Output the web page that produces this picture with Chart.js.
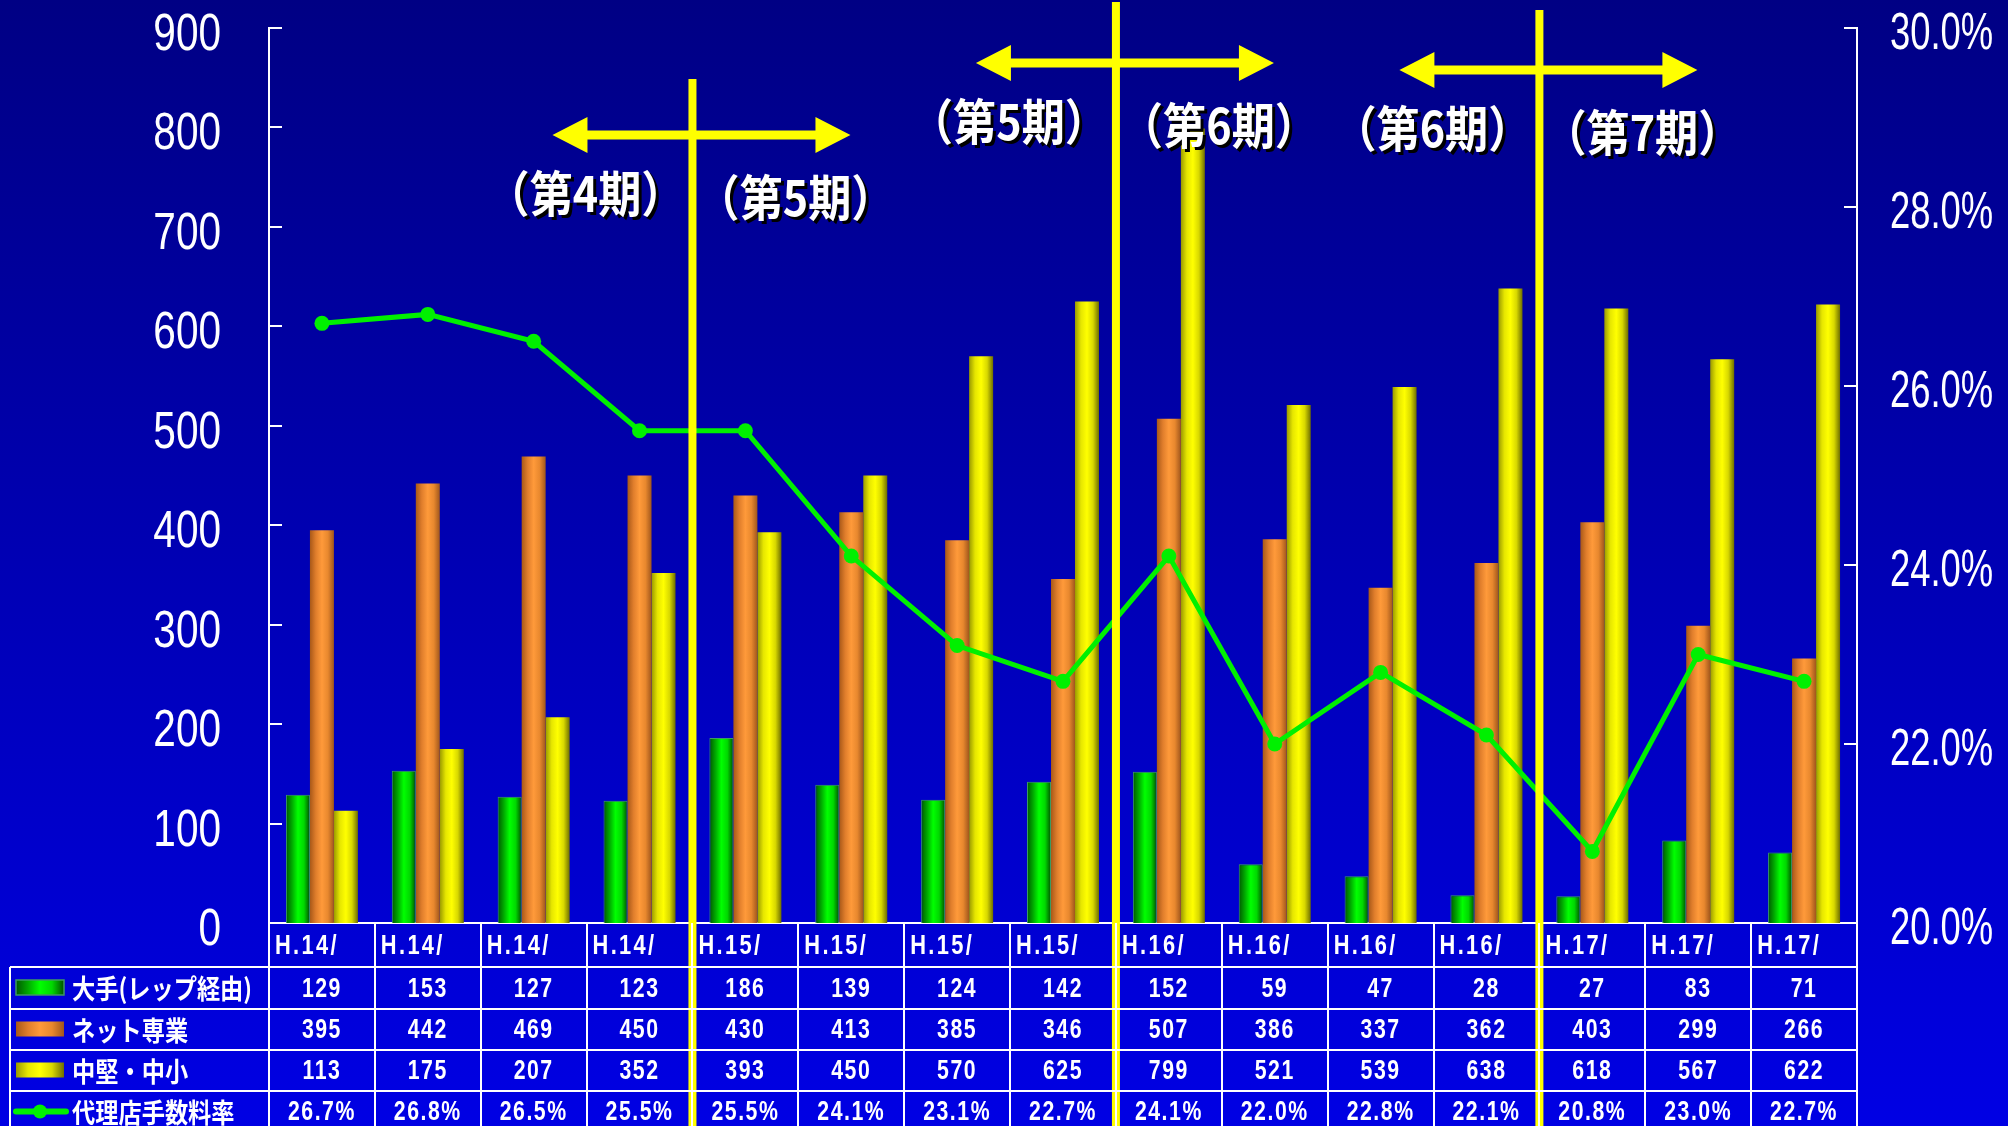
<!DOCTYPE html>
<html>
<head>
<meta charset="utf-8">
<script src="https://cdn.jsdelivr.net/npm/chart.js@4.4.1/dist/chart.umd.min.js"></script>
<style>
  html, body { margin: 0; padding: 0; }
  body { width: 2008px; height: 1126px; overflow: hidden; background: linear-gradient(#000084, #0000e4); }
  canvas { display: block; }
</style>
</head>
<body>
<canvas id="chart" width="2008" height="1126"></canvas>
<script>
const categories = ['H.14/', 'H.14/', 'H.14/', 'H.14/', 'H.15/', 'H.15/', 'H.15/', 'H.15/', 'H.16/', 'H.16/', 'H.16/', 'H.16/', 'H.17/', 'H.17/', 'H.17/'];
const majorAgents = [129, 153, 127, 123, 186, 139, 124, 142, 152, 59, 47, 28, 27, 83, 71];
const netAgents = [395, 442, 469, 450, 430, 413, 385, 346, 507, 386, 337, 362, 403, 299, 266];
const midSmallAgents = [113, 175, 207, 352, 393, 450, 570, 625, 799, 521, 539, 638, 618, 567, 622];
const commissionRate = [26.7, 26.8, 26.5, 25.5, 25.5, 24.1, 23.1, 22.7, 24.1, 22.0, 22.8, 22.1, 20.8, 23.0, 22.7];
const seriesNames = ['大手(レップ経由)', 'ネット専業', '中堅・中小', '代理店手数料率'];
const countTicks = [0, 100, 200, 300, 400, 500, 600, 700, 800, 900];
const rateTicks = [20, 22, 24, 26, 28, 30];
const periodBreaks = [4, 8, 12];
const periodLabels = [['（第4期）', '（第5期）'], ['（第5期）', '（第6期）'], ['（第6期）', '（第7期）']];

const SANS = '"Liberation Sans", Arial, sans-serif';
const JP = '"Noto Sans CJK JP", sans-serif';
const GROUP = 0.68;

const greenStops = ['#005800', '#00a800', '#00ff00', '#00d800', '#005000'];
const orangeStops = ['#a85818', '#e07e2c', '#ff9a3a', '#e8882e', '#a0561c'];
const yellowStops = ['#9a9a00', '#e6e600', '#ffff00', '#d8d800', '#6e6e00'];

function gradientFor(chart, x0, x1, stops) {
  const g = chart.ctx.createLinearGradient(x0, 0, x1, 0);
  stops.forEach((c, i) => g.addColorStop(i / (stops.length - 1), c));
  return g;
}

function barFill(stops, slot) {
  return (ctx) => {
    const xs = ctx.chart.scales.x;
    if (!xs || ctx.dataIndex === undefined) return stops[2];
    const cw = xs.getPixelForValue(1) - xs.getPixelForValue(0);
    const bw = cw * GROUP / 3;
    const cx = xs.getPixelForValue(ctx.dataIndex) + (slot - 1) * bw;
    if (!isFinite(cx) || !isFinite(bw) || bw <= 0) return stops[2];
    return gradientFor(ctx.chart, cx - bw / 2, cx + bw / 2, stops);
  };
}

function txt(ctx, s, x, y, font, align, sx = 1, spacing = '0px') {
  ctx.save();
  ctx.translate(x, y);
  ctx.scale(sx, 1);
  ctx.font = font;
  ctx.letterSpacing = spacing;
  ctx.textAlign = align;
  ctx.textBaseline = 'middle';
  ctx.fillText(s, 0, 0);
  ctx.restore();
}

// inward tick marks and narrow tick labels on both value axes
const axisTicks = {
  id: 'axisTicks',
  afterDraw(chart) {
    const { ctx, chartArea: a, scales } = chart;
    ctx.save();
    ctx.strokeStyle = '#ffffff';
    ctx.fillStyle = '#ffffff';
    ctx.lineWidth = 2;
    countTicks.forEach((v) => {
      const y = Math.round(scales.y.getPixelForValue(v));
      ctx.beginPath(); ctx.moveTo(a.left, y); ctx.lineTo(a.left + 13, y); ctx.stroke();
      txt(ctx, String(v), a.left - 48, y + 8, '52px ' + SANS, 'right', 0.78);
    });
    rateTicks.forEach((v) => {
      const y = Math.round(scales.y1.getPixelForValue(v));
      ctx.beginPath(); ctx.moveTo(a.right - 13, y); ctx.lineTo(a.right, y); ctx.stroke();
      txt(ctx, v.toFixed(1) + '%', a.right + 33, y + 7, '52px ' + SANS, 'left', 0.7);
    });
    ctx.restore();
  }
};

// data table under the plot
const dataTable = {
  id: 'dataTable',
  afterDraw(chart) {
    const { ctx, chartArea: a, scales } = chart;
    const xs = scales.x;
    const cw = xs.getPixelForValue(1) - xs.getPixelForValue(0);
    const top = a.bottom;
    const rows = [top, top + 44, top + 86, top + 127, top + 168, top + 209];
    const tableLeft = 10;
    ctx.save();
    ctx.strokeStyle = '#ffffff';
    ctx.lineWidth = 2;
    for (let r = 1; r < rows.length - 1; r++) {
      ctx.beginPath(); ctx.moveTo(tableLeft, rows[r]); ctx.lineTo(a.right, rows[r]); ctx.stroke();
    }
    ctx.beginPath(); ctx.moveTo(tableLeft, rows[1]); ctx.lineTo(tableLeft, chart.height); ctx.stroke();
    for (let i = 0; i <= categories.length; i++) {
      const x = Math.round(a.left + i * cw);
      ctx.beginPath(); ctx.moveTo(x, top); ctx.lineTo(x, chart.height); ctx.stroke();
    }

    ctx.fillStyle = '#ffffff';
    const rowMid = (r) => (rows[r] + rows[r + 1]) / 2;
    categories.forEach((c, i) => {
      const left = a.left + i * cw;
      txt(ctx, c, left + 6, rowMid(0) + 1, 'bold 28px ' + SANS, 'left', 0.78, '3px');
    });
    const tableRows = [majorAgents, netAgents, midSmallAgents, commissionRate.map((v) => v.toFixed(1) + '%')];
    tableRows.forEach((vals, r) => {
      vals.forEach((v, i) => {
        txt(ctx, String(v), xs.getPixelForValue(i), rowMid(r + 1) + 1, 'bold 28px ' + SANS, 'center', 0.76, '2px');
      });
    });

    // legend keys
    const keyStops = [greenStops, orangeStops, yellowStops];
    keyStops.forEach((stops, r) => {
      const y = rowMid(r + 1);
      ctx.fillStyle = gradientFor(chart, 16, 64, stops);
      ctx.fillRect(16, y - 8, 48, 15);
      if (r === 0) {
        ctx.strokeStyle = '#3c9a62';
        ctx.lineWidth = 1.5;
        ctx.strokeRect(16, y - 8, 48, 15);
      }
    });
    const ly = rowMid(4);
    ctx.strokeStyle = '#00f000';
    ctx.lineWidth = 6;
    ctx.lineCap = 'round';
    ctx.beginPath(); ctx.moveTo(16, ly); ctx.lineTo(66, ly); ctx.stroke();
    ctx.fillStyle = '#00f000';
    ctx.beginPath(); ctx.arc(40, ly, 7, 0, Math.PI * 2); ctx.fill();

    ctx.fillStyle = '#ffffff';
    seriesNames.forEach((s, r) => {
      txt(ctx, s, 72, rowMid(r + 1) + 1, 'bold 27px ' + JP, 'left', 0.86);
    });
    ctx.restore();
  }
};

// period dividers, arrows and labels
const periods = {
  id: 'periods',
  afterDatasetsDraw(chart) {
    const { ctx, chartArea: a, scales } = chart;
    const cw = scales.x.getPixelForValue(1) - scales.x.getPixelForValue(0);
    const lineTops = [79, 2, 10];
    const arrowYs = [135, 63, 70];
    ctx.save();
    periodBreaks.forEach((k, i) => {
      const b = a.left + k * cw;
      ctx.fillStyle = '#ffff00';
      ctx.fillRect(b - 4, lineTops[i], 8, chart.height - lineTops[i]);
      const y = arrowYs[i];
      const x0 = b - 140, x1 = b + 158;
      ctx.fillRect(x0 + 30, y - 4.5, x1 - x0 - 60, 9);
      ctx.beginPath();
      ctx.moveTo(x0, y); ctx.lineTo(x0 + 35, y - 18); ctx.lineTo(x0 + 35, y + 18); ctx.closePath();
      ctx.moveTo(x1, y); ctx.lineTo(x1 - 35, y - 18); ctx.lineTo(x1 - 35, y + 18); ctx.closePath();
      ctx.fill();

      const [lt, rt] = periodLabels[i];
      const font = 'bold 49px ' + JP;
      [[lt, b - 107, y + 58], [rt, b + 103, y + 62]].forEach(([s, x, ty]) => {
        ctx.fillStyle = '#000000';
        txt(ctx, s, x + 3, ty + 3, font, 'center', 0.88);
        ctx.fillStyle = '#ffffff';
        txt(ctx, s, x, ty, font, 'center', 0.88);
      });
    });
    ctx.restore();
  }
};

function fixWidth(w) {
  return (s) => { s.width = w; s.paddingTop = 0; s.paddingBottom = 0; };
}

new Chart(document.getElementById('chart'), {
  data: {
    labels: categories,
    datasets: [
      {
        type: 'line', label: seriesNames[3], data: commissionRate, yAxisID: 'y1', order: 0,
        borderColor: '#00f000', borderWidth: 5, pointRadius: 7.5, pointBackgroundColor: '#00f000',
        pointBorderWidth: 0, tension: 0
      },
      {
        type: 'bar', label: seriesNames[0], data: majorAgents, yAxisID: 'y', order: 1,
        backgroundColor: barFill(greenStops, 0), borderColor: '#3c9a62', borderWidth: 1,
        barPercentage: 1, categoryPercentage: GROUP
      },
      {
        type: 'bar', label: seriesNames[1], data: netAgents, yAxisID: 'y', order: 1,
        backgroundColor: barFill(orangeStops, 1), barPercentage: 1, categoryPercentage: GROUP
      },
      {
        type: 'bar', label: seriesNames[2], data: midSmallAgents, yAxisID: 'y', order: 1,
        backgroundColor: barFill(yellowStops, 2), barPercentage: 1, categoryPercentage: GROUP
      }
    ]
  },
  options: {
    responsive: false,
    animation: false,
    layout: { padding: { top: 28, left: 0, right: 0, bottom: 0 } },
    plugins: { legend: { display: false }, tooltip: { enabled: false } },
    scales: {
      x: {
        offset: true,
        grid: { display: false },
        border: { display: true, color: '#ffffff', width: 2 },
        ticks: { display: false },
        afterFit: (s) => { s.height = 203; }
      },
      y: {
        position: 'left', min: 0, max: 900,
        grid: { display: false, drawTicks: false },
        border: { display: true, color: '#ffffff', width: 2 },
        ticks: { display: false, stepSize: 100 },
        afterFit: fixWidth(269)
      },
      y1: {
        position: 'right', min: 20, max: 30,
        grid: { display: false, drawTicks: false },
        border: { display: true, color: '#ffffff', width: 2 },
        ticks: { display: false, stepSize: 2 },
        afterFit: fixWidth(151)
      }
    }
  },
  plugins: [axisTicks, periods, dataTable]
});
</script>
</body>
</html>
